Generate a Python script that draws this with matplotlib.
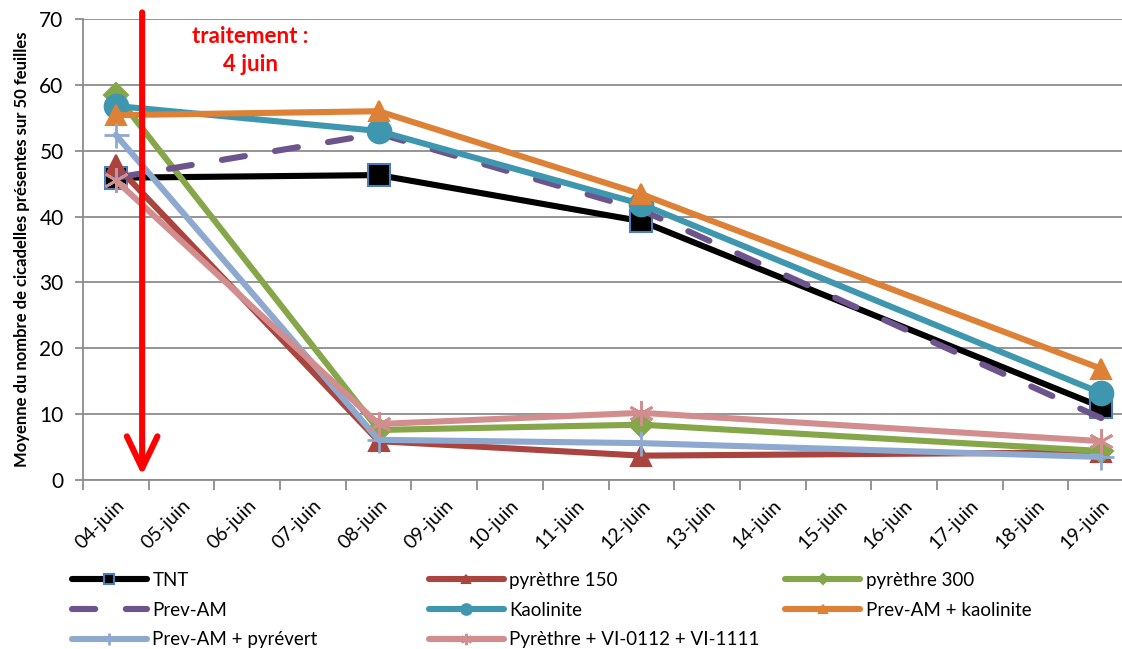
import matplotlib
matplotlib.use('Agg')
import matplotlib.pyplot as plt
import numpy as np

plt.rcParams.update({
    'font.family': ['Lato', 'DejaVu Sans'],
    'axes.linewidth': 1.0,
})

# Dates on the axis (one category per day)
days = ['04-juin', '05-juin', '06-juin', '07-juin', '08-juin', '09-juin',
        '10-juin', '11-juin', '12-juin', '13-juin', '14-juin', '15-juin',
        '16-juin', '17-juin', '18-juin', '19-juin']
# Sampling dates as day index from 04-juin
sample_days = [0, 4, 8, 15]

series_names = ['TNT', 'pyrèthre 150', 'pyrèthre 300', 'Prev-AM', 'Kaolinite',
                'Prev-AM + kaolinite', 'Prev-AM + pyrévert',
                'Pyrèthre + VI-0112 + VI-1111']
tnt = [45.9, 46.3, 39.3, 11.1]
pyr150 = [47.8, 5.9, 3.7, 4.2]
pyr300 = [58.5, 7.6, 8.4, 4.4]
prev_am = [45.9, 52.6, 41.0, 9.4]
kaolinite = [56.8, 53.0, 41.9, 13.2]
prev_kao = [55.4, 56.0, 43.4, 16.9]
prev_pyrevert = [52.4, 6.1, 5.6, 3.5]
pyr_vi = [45.5, 8.5, 10.2, 5.9]
values = [tnt, pyr150, pyr300, prev_am, kaolinite, prev_kao, prev_pyrevert, pyr_vi]

# Treatment marker
treat_day = 0.40
treat_top, treat_bottom = 71.0, 0.7

# line colour, marker, marker size, marker edge colour, dashes
styles = [
    ('#000000', 's', 16, '#4A7EBB', None),
    ('#A9443F', '^', 14, '#A9443F', None),
    ('#86A64A', 'D', 12, '#86A64A', None),
    ('#6E548D', None, 0, None, (3.8, 5.0)),
    ('#3E97AE', 'o', 17, '#3E97AE', None),
    ('#DD8136', '^', 14, '#DD8136', None),
    ('#8EA9CF', '+', 18, '#8EA9CF', None),
    ('#D28E8E', (6, 2, 0), 18, '#D28E8E', None),
]

fig = plt.figure(figsize=(11.22, 6.49), dpi=100)
ax = fig.add_axes([0.074, 0.2604, 0.9367, 0.7103])

handles = []
for name, vals, (col, mk, ms, mec, dash) in zip(series_names, values, styles):
    kw = dict(color=col, linewidth=4.4, solid_capstyle='round',
              dash_capstyle='round', label=name)
    if mk is not None:
        kw.update(marker=mk, markersize=ms, markerfacecolor=col,
                  markeredgecolor=mec, markeredgewidth=1.5)
        if mk == '+' or mk == (6, 2, 0):
            kw.update(markeredgewidth=2.0)
    if dash is not None:
        kw.update(dashes=dash)
    line, = ax.plot(sample_days, vals, clip_on=False, **kw)
    handles.append(line)

ax.set_xlim(-0.5, 15.5)
ax.set_ylim(0, 70)
ax.set_yticks(np.arange(0, 71, 10))
ax.yaxis.grid(True, color='#8C8C8C', linewidth=1.3)
ax.set_axisbelow(True)
for s in ['top', 'right']:
    ax.spines[s].set_visible(False)
for s in ['left', 'bottom']:
    ax.spines[s].set_color('#8C8C8C')
    ax.spines[s].set_linewidth(1.3)

ax.set_xticks(np.arange(len(days)))
ax.set_xticklabels(days, rotation=45, ha='right', va='top',
                   rotation_mode='anchor', fontsize=14)
ax.set_xticks(np.arange(len(days)) - 0.5, minor=True)
ax.tick_params(axis='x', which='major', length=0, pad=12)
ax.tick_params(axis='x', which='minor', length=7, color='#8C8C8C', width=1.3)
ax.tick_params(axis='y', length=6, color='#8C8C8C', width=1.3, labelsize=15,
               pad=8)

ax.set_ylabel('Moyenne du nombre de cicadelles présentes sur 50 feuilles',
              fontsize=12, fontweight='bold', labelpad=7)

# Treatment arrow and label
ax.annotate('', xy=(treat_day, treat_bottom), xytext=(treat_day, treat_top),
            arrowprops=dict(arrowstyle='->,head_length=2.3,head_width=1.1',
                            color='#FF0000', lw=4.4, shrinkA=0, shrinkB=0,
                            mutation_scale=10, capstyle='round',
                            joinstyle='round'),
            annotation_clip=False)
ax.text(2.05, 65.2, 'traitement :\n4 juin', color='#FF0000', fontsize=16,
        fontweight='bold', ha='center', va='center', linespacing=1.4)

# Legend: three fixed-width columns
columns = [[0, 3, 6], [1, 4, 7], [2, 5]]
col_x = [0.064, 0.382, 0.700]
for idx, x in zip(columns, col_x):
    fig.legend([handles[i] for i in idx], [series_names[i] for i in idx],
               loc='upper left', bbox_to_anchor=(x, 0.119), frameon=False,
               fontsize=13.5, handlelength=4.0, handletextpad=0.3,
               labelspacing=0.68, borderaxespad=0, borderpad=0,
               markerscale=0.45)

fig.savefig('out.png', dpi=100)
